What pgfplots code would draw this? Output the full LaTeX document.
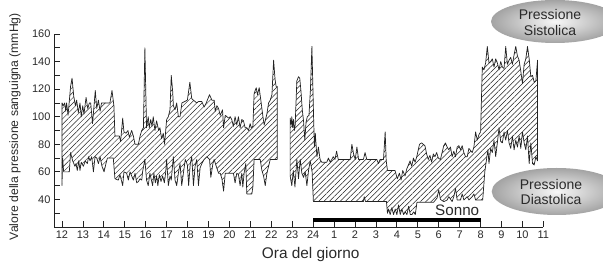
\documentclass[border=0pt]{standalone}
\usepackage{pgfplots}
\pgfplotsset{compat=1.18}
\usepgfplotslibrary{fillbetween}
\usetikzlibrary{patterns.meta}
\usepackage{fontspec}
\setmainfont{Liberation Sans}
\definecolor{ink}{HTML}{222222}
\definecolor{txt}{HTML}{2A2A2A}
\begin{document}
\begin{tikzpicture}
\begin{scope}
\clip (0pt,0pt) rectangle (603pt,262pt);
\shade[inner color=gray!6, outer color=gray!72] (555pt,240.5pt) ellipse [x radius=64pt, y radius=21.5pt];
\shade[inner color=gray!6, outer color=gray!72] (556.7pt,70.5pt) ellipse [x radius=65pt, y radius=23.5pt];
\end{scope}
\node[anchor=base, font=\fontsize{14}{16}\selectfont, text=txt] at (550pt,242pt) {Pressione};
\node[anchor=base, font=\fontsize{14}{16}\selectfont, text=txt] at (550pt,226pt) {Sistolica};
\node[anchor=base, font=\fontsize{14}{16}\selectfont, text=txt] at (551pt,72pt) {Pressione};
\node[anchor=base, font=\fontsize{14}{16}\selectfont, text=txt] at (551pt,57pt) {Diastolica};
\begin{axis}[
  at={(54pt,35pt)}, anchor=south west,
  scale only axis, width=489.4pt, height=193pt,
  xmin=-0.382, xmax=23, ymin=20, ymax=160,
  clip=false,
  axis x line*=bottom, axis y line*=left,
  axis line style={ink, line width=0.8pt},
  xtick={0,...,23},
  xticklabel={\pgfmathparse{int(mod(round(\tick)+11,24)+1)}\pgfmathresult},
  ytick={40,60,...,160}, minor ytick={30,50,...,150},
  yticklabel={\pgfmathparse{int(round(\tick))}\pgfmathresult},
  tick align=inside, major tick length=5.5pt, minor tick length=5.5pt,
  tick style={ink, line width=0.8pt},
  ticklabel style={font=\fontsize{11}{13}\selectfont, text=txt},
  xlabel={Ora del giorno},
  ylabel={Valore della pressione sanguigna (mmHg)},
  xlabel style={at={(axis description cs:0.5245,-0.1658)}, anchor=base, font=\fontsize{15.4}{18}\selectfont, text=txt},
  ylabel style={at={(axis description cs:-0.0797,0.52)}, anchor=center, font=\fontsize{12.2}{14}\selectfont, text=txt},
]
\addplot[draw=none, name path=U1, forget plot] table {
t v
0.00 110
0.06 108
0.13 110
0.18 104
0.22 110
0.29 101
0.41 122
0.48 128
0.56 115
0.64 108
0.70 112
0.78 103
0.86 110
0.92 100
0.99 108
1.05 102
1.15 114
1.23 106
1.31 110
1.37 110
1.46 95
1.59 119
1.66 106
1.74 112
1.82 104
1.89 110
2.29 110
2.39 119
2.48 108
2.53 86
2.74 86
2.80 82
2.90 99
2.96 89
3.06 88
3.15 90
3.22 85
3.33 90
3.41 86
3.49 80
3.65 80
3.73 86
3.81 90
3.89 92
3.96 150
4.04 92
4.12 100
4.17 92
4.24 98
4.30 93
4.36 100
4.44 90
4.52 97
4.62 90
4.68 92
4.76 84
4.84 88
4.90 80
5.00 98
5.08 100
5.16 105
5.22 130
5.29 118
5.32 108
5.40 105
5.48 110
5.56 100
5.64 100
5.73 110
5.99 112
6.11 125
6.20 113
6.28 112
6.36 111
6.44 110
6.52 111
6.68 111
6.79 107
6.89 110
7.05 116
7.16 112
7.27 112
7.32 104
7.40 108
7.48 106
7.56 101
7.67 105
7.72 92
7.80 101
7.88 100
7.96 99
8.04 100
8.11 98
8.19 93
8.27 100
8.35 94
8.43 100
8.51 92
8.59 98
8.67 97
8.75 92
8.83 92
8.91 90
8.99 95
9.04 92
9.12 93
9.18 117
9.28 121
9.34 116
9.42 121
9.50 112
9.60 100
9.66 94
9.79 102
9.87 110
9.95 112
10.03 116
10.11 141
10.18 127
10.23 122
10.28 122
};
\addplot[draw=none, name path=L1, forget plot] table {
t v
0.00 50
0.03 70
0.08 60
0.35 60
0.41 74
0.51 68
0.62 64
0.67 66
0.73 61
0.80 68
0.86 61
0.92 67
1.02 64
1.11 68
1.21 66
1.27 71
1.34 68
1.42 71
1.50 60
1.58 71
1.66 70
1.74 66
1.82 71
1.91 64
2.01 60
2.10 66
2.17 70
2.45 70
2.53 55
2.69 54
2.77 58
2.90 50
2.96 60
3.09 59
3.17 54
3.25 60
3.41 54
3.49 59
3.57 52
3.65 53
3.73 55
3.81 54
3.85 60
3.96 69
4.04 54
4.12 50
4.20 59
4.27 54
4.33 50
4.39 59
4.46 52
4.52 57
4.58 50
4.65 58
4.73 53
4.81 57
4.89 52
4.95 59
5.00 69
5.08 50
5.16 57
5.22 54
5.32 71
5.40 54
5.48 50
5.56 59
5.64 66
5.72 50
5.80 59
5.89 69
5.99 65
6.05 50
6.13 66
6.20 71
6.28 50
6.36 64
6.44 69
6.52 50
6.60 63
6.68 66
6.79 69
6.92 71
7.05 69
7.11 56
7.21 66
7.27 69
7.37 64
7.48 59
7.56 59
7.64 55
7.72 46
7.80 59
8.19 59
8.27 52
8.35 59
8.43 58
8.51 50
8.59 59
8.64 49
8.70 59
8.78 66
8.83 44
9.07 44
9.12 49
9.18 69
9.47 69
9.55 61
9.63 57
9.71 50
9.79 59
9.87 64
9.95 69
10.28 69
};
\addplot[draw=none, name path=U2, forget plot] table {
t v
10.90 99
10.95 94
10.98 100
11.02 92
11.06 98
11.10 90
11.14 94
11.22 126
11.30 129
11.36 128
11.42 118
11.48 105
11.54 97
11.60 83
11.66 96
11.72 100
11.80 101
11.87 120
11.94 151
12.02 100
12.06 78
12.10 88
12.18 71
12.25 78
12.33 69
12.41 67
12.65 67
12.73 70
12.81 67
12.89 69
12.96 71
13.04 69
13.12 75
13.20 69
13.77 69
13.85 80
13.93 73
14.01 69
14.09 78
14.17 69
14.40 69
14.48 74
14.56 69
15.04 69
15.12 66
15.20 69
15.36 69
15.44 89
15.49 68
15.55 61
15.91 61
16.02 55
16.12 59
16.20 54
16.28 61
16.39 57
16.47 62
16.63 68
16.71 64
16.79 70
16.87 67
16.95 71
17.08 80
17.18 81
17.26 80
17.34 79
17.42 73
17.50 69
17.58 72
17.66 67
17.74 73
17.82 71
17.90 74
17.98 70
18.08 69
18.24 79
18.32 81
18.40 78
18.48 76
18.56 78
18.64 71
18.72 75
18.80 71
18.88 78
18.96 79
19.04 76
19.12 79
19.20 74
19.28 71
19.36 71
19.44 77
19.60 74
19.68 78
19.76 89
19.84 83
19.92 87
20.00 89
20.08 136
20.16 134
20.24 139
20.32 151
20.40 139
20.48 140
20.56 142
20.64 136
20.72 142
20.80 139
20.88 134
20.96 140
21.04 136
21.12 135
21.20 151
21.28 138
21.36 141
21.44 143
21.52 138
21.60 145
21.68 151
21.76 144
21.84 141
21.92 133
22.00 124
22.08 138
22.16 142
22.24 151
22.32 142
22.40 129
22.48 130
22.56 125
22.64 126
22.72 141
};
\addplot[draw=none, name path=L2, forget plot] table {
t v
10.90 57
10.98 50
11.05 61
11.13 49
11.22 69
11.30 55
11.38 69
11.46 59
11.54 56
11.62 60
11.70 50
11.78 61
11.86 68
11.95 60
12.01 38.5
14.40 38.5
14.44 42
14.50 38.5
15.50 38.5
15.55 30
15.60 33
15.68 29
15.76 34
15.84 29
15.92 33
16.00 29
16.08 36
16.16 29
16.24 33
16.32 29
16.40 31
16.48 29
16.56 35
16.64 29
16.72 29
16.80 31
16.88 29
16.96 38
17.76 38
17.84 39.6
17.92 41
18.00 47
18.08 40
18.24 38.4
18.40 39.6
18.48 42
18.64 38.4
18.72 42
18.80 48
18.88 39.6
19.04 39.6
19.12 44
19.20 39.6
19.36 42
19.44 39.6
19.60 42
19.68 44
19.76 39.6
20.10 39.6
20.20 60
20.30 71
20.35 76
20.40 66
20.48 77
20.56 74
20.64 83
20.72 71
20.80 81
20.88 92
20.96 82
21.04 81
21.12 89
21.20 83
21.28 90
21.36 81
21.44 77
21.52 86
21.60 76
21.68 83
21.76 78
21.84 86
21.92 77
22.00 89
22.08 81
22.16 76
22.24 86
22.32 66
22.40 81
22.48 66
22.56 65
22.64 71
22.72 68
};
\addplot[pattern={Lines[angle=45,distance=3.8pt,line width=0.5pt]}, pattern color=ink, draw=ink, line width=0.7pt, line join=round] fill between[of=U1 and L1];
\addplot[pattern={Lines[angle=45,distance=3.8pt,line width=0.5pt]}, pattern color=ink, draw=ink, line width=0.7pt, line join=round] fill between[of=U2 and L2];
\addplot[black, line width=3.7pt, forget plot] coordinates {(12,24.9) (20,24.9)};
\node[anchor=base east, font=\fontsize{15.2}{18}\selectfont, text=txt] at (axis cs:20.1,28.7) {Sonno};
\end{axis}
\pgfresetboundingbox
\path[use as bounding box] (0pt,0pt) rectangle (603pt,262pt);
\end{tikzpicture}
\end{document}
